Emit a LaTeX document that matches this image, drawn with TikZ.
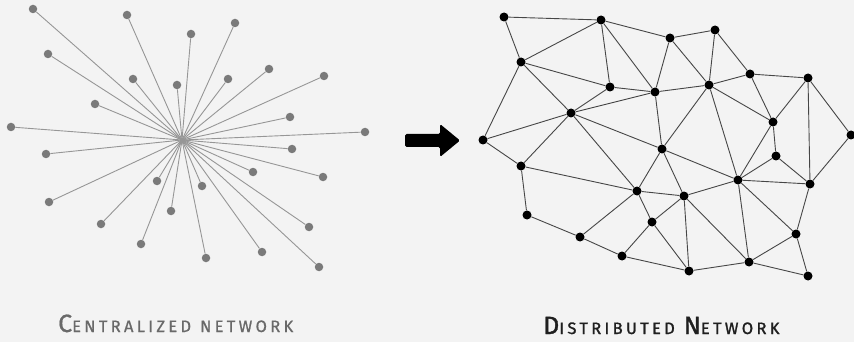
\documentclass[tikz,border=0pt]{standalone}
\usepackage{fontspec}
\setmainfont{Fira Sans}
\newfontfamily\lblfont[LetterSpace=20,FakeBold=0.8]{Fira Sans}
\newfontfamily\lblfontdark[LetterSpace=20,FakeBold=1.4]{Fira Sans}
\definecolor{bg}{RGB}{243,243,243}
\definecolor{starline}{RGB}{150,150,150}
\definecolor{stardot}{RGB}{122,122,122}
\definecolor{netline}{RGB}{70,70,70}
\definecolor{lbl}{RGB}{105,105,105}
\begin{document}
\begin{tikzpicture}[x=1pt,y=-1pt,
  sdot/.style={circle,fill=stardot,inner sep=0pt,minimum size=8.5pt},
  ndot/.style={circle,fill=black,inner sep=0pt,minimum size=9pt},
  sline/.style={draw=starline,line width=0.9pt},
  nline/.style={draw=netline,line width=0.9pt},
  title/.style={inner sep=0pt,anchor=base west}]
\fill[bg] (0,0) rectangle (854,342);
\useasboundingbox (0,0) rectangle (854,342);
% ---- centralized network ----
\coordinate (c) at (182,140);
\foreach \n/\x/\y in {s1/33/9,s2/127/15,s3/191/34,s4/235/23,s5/48/54,s6/133/79,s7/177/85,s8/228/79,s9/269/69,s10/324/76,s11/95/104,s12/290/117,s13/11/127,s14/365/132,s15/46/154,s16/292/149,s17/253/172,s18/323/177,s19/157/181,s20/202/186,s21/49/202,s22/171/211,s23/101/224,s24/309/227,s25/141/244,s26/262/252,s27/206/258,s28/319/267}{
  \node[sdot] (\n) at (\x,\y) {};
  \draw[sline] (c) -- (\n);
}
% ---- arrow ----
\fill[black,rounded corners=1.5pt] (405,134) -- (440,134) -- (440,124) -- (460,140.5) -- (440,157) -- (440,147) -- (405,147) -- cycle;
% ---- distributed network ----
\foreach \n/\x/\y in {A/504/17,B/601/20,C/670/38,D/715/30,E/521/62,F/610/87,G/655/92,H/709/85,I/750/74,J/808/78,K/571/113,L/773/122,M/851/135,N/483/140,O/662/149,P/776/156,Q/521/166,R/738/180,S/810/184,T/637/191,U/684/196,V/527/215,W/652/222,X/796/234,Y/580/237,Z/622/256,AA/749/262,BB/689/271,CC/808/276}{
  \node[ndot] (\n) at (\x,\y) {};
}
\foreach \a/\b in {A/B,A/E,B/E,B/F,B/G,B/C,C/D,C/G,C/H,D/H,D/I,E/F,E/K,E/N,F/G,F/K,K/G,G/H,H/I,I/J,I/L,H/L,J/L,J/S,J/M,M/S,G/O,H/O,H/R,K/N,K/Q,K/O,K/T,N/Q,Q/T,Q/V,O/T,O/U,O/R,T/U,T/Y,T/W,U/W,U/R,U/BB,L/P,L/R,P/R,P/S,R/S,R/AA,R/X,S/X,X/AA,X/CC,AA/CC,AA/BB,W/Z,W/BB,Y/Z,V/Y,Z/BB,U/AA}{
  \draw[nline] (\a) -- (\b);
}
% ---- labels ----
\node[title,text=lbl,font=\lblfont] (t1) at (58,332) {{\fontsize{25}{25}\selectfont C}{\fontsize{16.5}{17}\selectfont ENTRALIZED\hspace{9pt}NETWORK}};
\node[title,text=black!88,font=\lblfontdark] (t2) at (543,334) {{\fontsize{25}{25}\selectfont D}{\fontsize{16.5}{17}\selectfont ISTRIBUTED\hspace{9pt}}{\fontsize{25}{25}\selectfont N}{\fontsize{16.5}{17}\selectfont ETWORK}};
\end{tikzpicture}
\end{document}
